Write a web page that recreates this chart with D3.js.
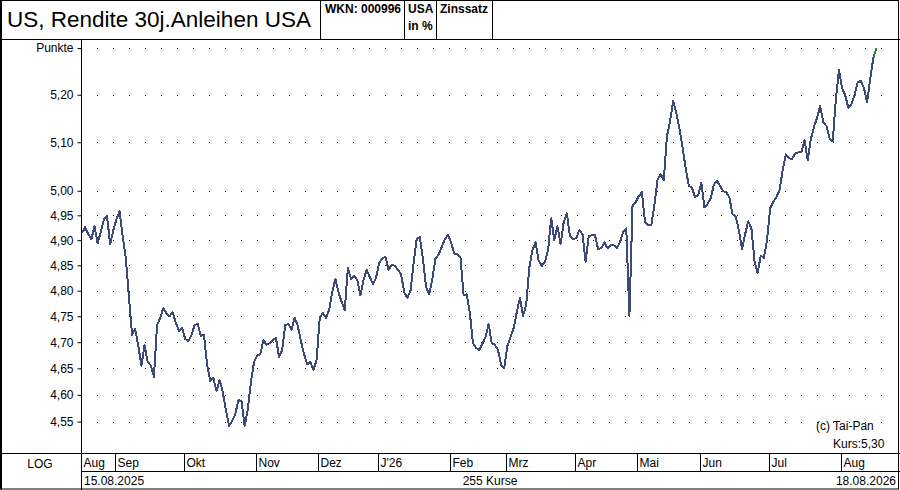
<!DOCTYPE html>
<html>
<head>
<meta charset="utf-8">
<script src="https://cdn.jsdelivr.net/npm/d3@7/dist/d3.min.js"></script>
<style>
  body { margin: 0; background: #fff; }
  svg { display: block; font-family: Arial, "Liberation Sans", sans-serif; }
</style>
</head>
<body>
<svg id="chart"></svg>
<script>
// 30y US yield, 255 daily closes, 15.08.2025 .. 18.08.2026
const yields = [
  4.914, 4.926, 4.912, 4.902, 4.928, 4.894, 4.916, 4.942, 4.948, 4.892,
  4.920, 4.942, 4.958, 4.908, 4.865, 4.788, 4.714, 4.725, 4.693, 4.655,
  4.695, 4.662, 4.656, 4.634, 4.733, 4.747, 4.766, 4.756, 4.750, 4.758,
  4.737, 4.722, 4.727, 4.706, 4.702, 4.714, 4.733, 4.735, 4.712, 4.714,
  4.656, 4.626, 4.632, 4.607, 4.628, 4.605, 4.572, 4.542, 4.551, 4.564,
  4.590, 4.588, 4.542, 4.572, 4.624, 4.662, 4.674, 4.677, 4.704, 4.695,
  4.698, 4.704, 4.708, 4.672, 4.685, 4.733, 4.735, 4.724, 4.747, 4.731,
  4.702, 4.677, 4.658, 4.662, 4.647, 4.666, 4.747, 4.756, 4.747, 4.762,
  4.797, 4.823, 4.797, 4.778, 4.762, 4.845, 4.823, 4.829, 4.821, 4.791,
  4.821, 4.841, 4.827, 4.813, 4.825, 4.855, 4.863, 4.867, 4.841, 4.851,
  4.849, 4.841, 4.833, 4.797, 4.786, 4.799, 4.853, 4.902, 4.906, 4.863,
  4.807, 4.793, 4.823, 4.863, 4.871, 4.886, 4.902, 4.910, 4.896, 4.873,
  4.873, 4.865, 4.791, 4.793, 4.756, 4.698, 4.689, 4.685, 4.697, 4.710,
  4.735, 4.698, 4.695, 4.685, 4.656, 4.651, 4.693, 4.710, 4.727, 4.758,
  4.786, 4.751, 4.772, 4.845, 4.880, 4.896, 4.859, 4.849, 4.857, 4.880,
  4.944, 4.900, 4.928, 4.892, 4.936, 4.954, 4.908, 4.902, 4.904, 4.920,
  4.912, 4.857, 4.908, 4.910, 4.910, 4.882, 4.884, 4.896, 4.884, 4.890,
  4.890, 4.884, 4.896, 4.916, 4.924, 4.751, 4.969, 4.977, 4.989, 4.997,
  4.936, 4.930, 4.930, 4.971, 5.022, 5.034, 5.022, 5.112, 5.144, 5.187,
  5.161, 5.129, 5.089, 5.046, 5.010, 5.006, 4.987, 4.991, 5.016, 4.966,
  4.973, 4.985, 5.012, 5.020, 5.010, 4.999, 4.997, 4.985, 4.952, 4.948,
  4.920, 4.882, 4.912, 4.938, 4.924, 4.859, 4.835, 4.869, 4.865, 4.900,
  4.964, 4.977, 4.987, 5.001, 5.042, 5.075, 5.067, 5.065, 5.077, 5.079,
  5.079, 5.104, 5.063, 5.106, 5.132, 5.151, 5.176, 5.142, 5.134, 5.108,
  5.102, 5.189, 5.253, 5.214, 5.199, 5.172, 5.180, 5.199, 5.227, 5.229,
  5.214, 5.184, 5.234, 5.279, 5.300
];

const monthLabels = ["Aug", "Sep", "Okt", "Nov", "Dez", "J'26", "Feb", "Mrz", "Apr", "Mai", "Jun", "Jul", "Aug"];
// index of the first close in each month
const monthStarts = [0, 11, 33, 56, 76, 95, 118, 136, 158, 178, 198, 220, 243];

const yTicks = [4.55, 4.60, 4.65, 4.70, 4.75, 4.80, 4.85, 4.90, 4.95, 5.00, 5.10, 5.20];
const topValue = 5.30;

const title = "US, Rendite 30j.Anleihen USA";
const startDate = "15.08.2025";
const endDate = "18.08.2026";

const width = 900;
const height = 490;

const svg = d3.select("#chart").attr("width", width).attr("height", height);

svg.append("rect").attr("width", width).attr("height", height).attr("fill", "#fff");

const x = d3.scaleLinear().domain([0, yields.length - 1]).range([82, 876.5]);
const y = d3.scaleLog().domain([4.55, topValue]).range([421.6, 48.1]);
const step = x(1) - x(0);

const comma = (v) => d3.format(".2f")(v).replace(".", ",");

// frame lines
const frame = svg.append("g").attr("stroke", "#000").attr("stroke-width", 1).attr("fill", "none");
frame.append("rect").attr("x", 0.5).attr("y", 0.5).attr("width", 898).attr("height", 488.5);
frame.append("line").attr("x1", 1.5).attr("x2", 1.5).attr("y1", 0).attr("y2", 490);
frame.append("line").attr("x1", 0).attr("x2", width).attr("y1", 39.5).attr("y2", 39.5);
[320.5, 404.5, 436.5, 492.5].forEach((px) => {
  frame.append("line").attr("x1", px).attr("x2", px).attr("y1", 0).attr("y2", 39.5);
});
frame.append("line").attr("x1", 81.5).attr("x2", 81.5).attr("y1", 39.5).attr("y2", 490);
frame.append("line").attr("x1", 0).attr("x2", width).attr("y1", 453.5).attr("y2", 453.5);
frame.append("line").attr("x1", 81.5).attr("x2", width).attr("y1", 471.5).attr("y2", 471.5);

// header
svg.append("text").attr("x", 7).attr("y", 27).attr("font-size", 22.5).text(title);
const hdr = svg.append("g").attr("font-size", 12).attr("font-weight", "bold");
hdr.append("text").attr("x", 325).attr("y", 13).text("WKN: 000996");
hdr.append("text").attr("x", 408).attr("y", 13).text("USA");
hdr.append("text").attr("x", 408).attr("y", 30).text("in %");
hdr.append("text").attr("x", 440).attr("y", 13).text("Zinssatz");

// dotted grid
const dotXs = d3.range(97, 882, 16);
const grid = svg.append("g").attr("fill", "#000");
[...yTicks, topValue].forEach((v) => {
  grid.selectAll(null)
    .data(dotXs)
    .join("rect")
    .attr("x", (d) => d)
    .attr("y", Math.round(y(v)))
    .attr("width", 1)
    .attr("height", 1);
});

// y axis
const yAxis = svg.append("g")
  .attr("transform", "translate(81.5,0)")
  .call(
    d3.axisLeft(y)
      .tickValues([...yTicks, topValue])
      .tickFormat((v) => (v === topValue ? "Punkte" : comma(v)))
      .tickSize(4)
      .tickPadding(4)
  );
yAxis.select(".domain").remove();
yAxis.selectAll("text").attr("font-size", 12).attr("fill", "#000").attr("font-family", "Arial, 'Liberation Sans', sans-serif");
yAxis.selectAll("line").attr("stroke", "#000");

// price line
svg.append("clipPath").attr("id", "plot-clip")
  .append("rect").attr("x", 82).attr("y", 40).attr("width", 815).attr("height", 413);

const line = d3.line().x((d) => x(d[0])).y((d) => y(d[1]));
const pts = yields.map((v, i) => [i, v]);

svg.append("path")
  .attr("clip-path", "url(#plot-clip)")
  .attr("d", line(pts.slice(0, pts.length - 1)))
  .attr("fill", "none")
  .attr("stroke", "#3f4975")
  .attr("stroke-width", 2)
  .attr("stroke-linejoin", "round")
  .attr("shape-rendering", "crispEdges");

svg.append("path")
  .attr("clip-path", "url(#plot-clip)")
  .attr("d", line(pts.slice(pts.length - 2)))
  .attr("fill", "none")
  .attr("stroke", "#1e8a2a")
  .attr("stroke-width", 2)
  .attr("shape-rendering", "crispEdges");

// bottom rows
const bottom = svg.append("g").attr("font-size", 12).attr("fill", "#000");
monthStarts.forEach((idx, k) => {
  const mx = k === 0 ? 81.5 : Math.round(x(idx) - step / 2) + 0.5;
  if (k > 0) {
    svg.append("line").attr("x1", mx).attr("x2", mx).attr("y1", 453.5).attr("y2", 471.5).attr("stroke", "#000");
  }
  bottom.append("text").attr("x", mx + 2).attr("y", 467).text(monthLabels[k]);
});
bottom.append("text").attr("x", 40).attr("y", 468).attr("text-anchor", "middle").text("LOG");
bottom.append("text").attr("x", 84).attr("y", 485).text(startDate);
bottom.append("text").attr("x", 490).attr("y", 485).attr("text-anchor", "middle").text(`${yields.length} Kurse`);
bottom.append("text").attr("x", 896).attr("y", 485).attr("text-anchor", "end").text(endDate);

svg.append("text").attr("x", 816).attr("y", 430).attr("font-size", 12).text("(c) Tai-Pan");
svg.append("text").attr("x", 833).attr("y", 448).attr("font-size", 12)
  .text(`Kurs:${comma(yields[yields.length - 1])}`);
</script>
</body>
</html>
